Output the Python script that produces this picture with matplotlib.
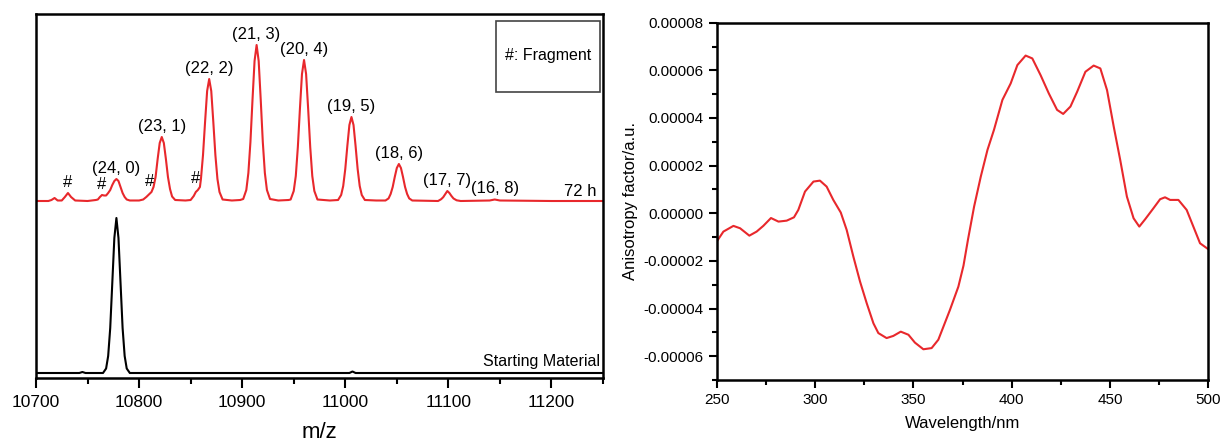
import matplotlib.pyplot as plt
from matplotlib.patches import Rectangle
from matplotlib.ticker import MultipleLocator

plt.rcParams['font.family'] = ['Liberation Sans', 'DejaVu Sans']

# mass spectrum, 72 h sample (m/z, intensity above its own baseline, a.u.)
red_mz = [10700, 10712, 10715, 10718, 10721, 10725, 10728, 10731, 10734, 10738, 10750, 10758,
          10760, 10762, 10764, 10766, 10768, 10770, 10772, 10774, 10776, 10778, 10780, 10782,
          10784, 10786, 10788, 10791, 10800, 10804, 10807, 10810, 10812, 10814, 10816, 10818,
          10820, 10822, 10824, 10826, 10828, 10830, 10832, 10835, 10845, 10850, 10853, 10855,
          10857, 10859, 10860, 10862, 10864, 10866, 10868, 10870, 10872, 10874, 10876, 10878,
          10881, 10890, 10898, 10901, 10904, 10906, 10908, 10910, 10912, 10914, 10916, 10918,
          10920, 10922, 10924, 10927, 10935, 10945, 10947, 10950, 10952, 10954, 10956, 10958,
          10960, 10962, 10964, 10966, 10968, 10970, 10973, 10985, 10993, 10996, 10998, 11000,
          11002, 11004, 11006, 11008, 11010, 11012, 11014, 11016, 11019, 11030, 11039, 11042,
          11044, 11046, 11048, 11050, 11052, 11054, 11056, 11058, 11060, 11062, 11065, 11090,
          11093, 11095, 11097, 11099, 11101, 11103, 11105, 11108, 11112, 11140, 11145, 11150,
          11200, 11250]
red_int = [0, 0, 1, 3, 0.5, 0.5, 4, 8, 4, 0.5, 0, 1,
           1.5, 4, 6, 5.5, 5.5, 8, 11, 16, 20, 22, 20, 14,
           8, 4, 1.5, 0.5, 0.5, 1.5, 4, 7, 9, 14, 24, 42,
           58, 64, 58, 42, 24, 12, 4.5, 1, 0.5, 1, 5, 9,
           11, 14, 22, 46, 79, 110, 122, 110, 79, 46, 22, 9,
           1.5, 0.5, 1, 2, 11, 28, 59, 101, 140, 156, 140, 101,
           59, 28, 11, 2, 0.5, 1, 1.5, 10, 25, 54, 92, 127,
           141, 127, 92, 54, 25, 10, 1.5, 0.5, 1, 6, 15, 32,
           55, 76, 84, 76, 55, 32, 15, 6, 1, 0.5, 0.5, 2.6,
           7, 14, 24, 33, 37, 33, 24, 14, 7, 2.6, 0.5, 0,
           1.8, 3.8, 7, 10, 8, 5, 2.5, 0.7, 0, 0.5, 1.5, 0.5,
           0, 0]

# starting material
black_mz = [10700, 10742, 10745, 10748, 10765, 10768, 10770, 10772, 10774, 10776, 10778, 10780,
            10782, 10784, 10786, 10788, 10791, 10900, 11004, 11007, 11010, 11250]
black_int = [0, 0, 1, 0, 0, 4.5, 17, 45, 90, 135, 155, 135,
             90, 45, 17, 4.5, 0, 0, 0, 1.5, 0, 0]

red_offset = 177
black_offset = 5

peak_labels = ['#', '#', '(24, 0)', '#', '(23, 1)', '#', '(22, 2)', '(21, 3)', '(20, 4)',
               '(19, 5)', '(18, 6)', '(17, 7)', '(16, 8)']
peak_mz = [10731, 10764, 10778, 10810, 10822, 10855, 10868, 10914, 10960, 11006, 11052, 11099, 11145]
peak_int = [8, 6, 22, 9, 64, 12, 122, 156, 141, 84, 37, 10, 1.5]

# anisotropy factor spectrum (value in units of 1e-5)
wl = [250, 253.4, 258.5, 261.9, 266.6, 270.3, 273.7, 277.6, 281.4, 285.6, 289.3, 291.5,
      294.9, 299.2, 302.5, 305.9, 309.3, 313.1, 316.1, 319.5, 322.9, 326.3, 329.7, 332.2,
      336.4, 339.8, 343.6, 347.5, 350.8, 355.1, 359.3, 362.7, 365.3, 368.6, 372.9, 375.5,
      377.8, 380.9, 384.3, 387.7, 391.0, 395.3, 399.5, 402.9, 407.1, 410.5, 414.7, 418.9,
      423.1, 426.2, 429.9, 433.3, 437.5, 441.7, 445.1, 448.5, 451.9, 455.2, 458.6, 462.0,
      464.9, 467.9, 472.1, 475.5, 478.0, 480.6, 484.8, 489.0, 492.4, 495.8, 500]
g_abs = [-1.19, -0.77, -0.53, -0.63, -0.94, -0.77, -0.53, -0.2, -0.35, -0.31, -0.17, 0.14,
         0.91, 1.33, 1.37, 1.12, 0.56, 0.03, -0.7, -1.82, -2.87, -3.78, -4.62, -5.03,
         -5.24, -5.15, -4.97, -5.1, -5.43, -5.71, -5.66, -5.31, -4.76, -4.06, -3.08, -2.2,
         -1.1, 0.28, 1.54, 2.66, 3.5, 4.76, 5.45, 6.22, 6.62, 6.5, 5.8, 5.03,
         4.34, 4.17, 4.48, 5.1, 5.94, 6.2, 6.08, 5.17, 3.64, 2.24, 0.7, -0.21,
         -0.56, -0.25, 0.21, 0.59, 0.67, 0.56, 0.56, 0.14, -0.56, -1.26, -1.51]
g_abs = [v * 1e-5 for v in g_abs]

red = '#e8282c'

fig = plt.figure(figsize=(12.23, 4.46), dpi=100)

# ---- left panel: mass spectra
ax1 = fig.add_axes([36 / 1223, 68 / 446, 567 / 1223, 364 / 446])
ax1.plot(red_mz, [v + red_offset for v in red_int], color=red, lw=1.5)
ax1.plot(black_mz, [v + black_offset for v in black_int], color='black', lw=1.5)
ax1.set_xlim(10700, 11250)
ax1.set_ylim(0, 364)
ax1.set_yticks([])
ax1.xaxis.set_major_locator(MultipleLocator(100))
ax1.xaxis.set_minor_locator(MultipleLocator(50))
ax1.tick_params(axis='x', which='major', direction='out', length=7, width=1.5, labelsize=12.5, pad=5)
ax1.tick_params(axis='x', which='minor', direction='out', length=4, width=1.5)
for s in ax1.spines.values():
    s.set_linewidth(1.8)
fig.text(319.5 / 1223, 1 - 433 / 446, 'm/z', ha='center', va='center', fontsize=16)

for lab, x, h in zip(peak_labels, peak_mz, peak_int):
    ax1.text(x, h + red_offset + 3, lab, ha='center', va='bottom', fontsize=12)

ax1.text(11244, red_offset + 2, '72 h', ha='right', va='bottom', fontsize=12)
ax1.text(11247, black_offset + 4, 'Starting Material', ha='right', va='bottom', fontsize=11.5)
ax1.add_patch(Rectangle((0.811, 0.786), 0.183, 0.195, transform=ax1.transAxes,
                        fc='white', ec='#444444', lw=1.2))
ax1.text(0.903, 0.885, '#: Fragment', transform=ax1.transAxes, ha='center', va='center', fontsize=11.5)

# ---- right panel: anisotropy factor
ax2 = fig.add_axes([716.7 / 1223, 66 / 446, 491.6 / 1223, 357.3 / 446])
ax2.plot(wl, g_abs, color=red, lw=1.5)
ax2.set_xlim(250, 500)
ax2.set_ylim(-0.00007, 0.00008)
ax2.xaxis.set_major_locator(MultipleLocator(50))
ax2.xaxis.set_minor_locator(MultipleLocator(25))
ax2.yaxis.set_major_locator(MultipleLocator(0.00002))
ax2.yaxis.set_minor_locator(MultipleLocator(0.00001))
ax2.yaxis.set_major_formatter(lambda v, p: '%.5f' % v)
ax2.tick_params(which='major', direction='out', length=6, width=1.5, labelsize=11)
ax2.tick_params(which='minor', direction='out', length=3.5, width=1.5)
for s in ax2.spines.values():
    s.set_linewidth(1.8)
ax2.set_xlabel('Wavelength/nm', fontsize=12, labelpad=6)
ax2.set_ylabel('Anisotropy factor/a.u.', fontsize=12)

fig.savefig('out.png', dpi=100)
